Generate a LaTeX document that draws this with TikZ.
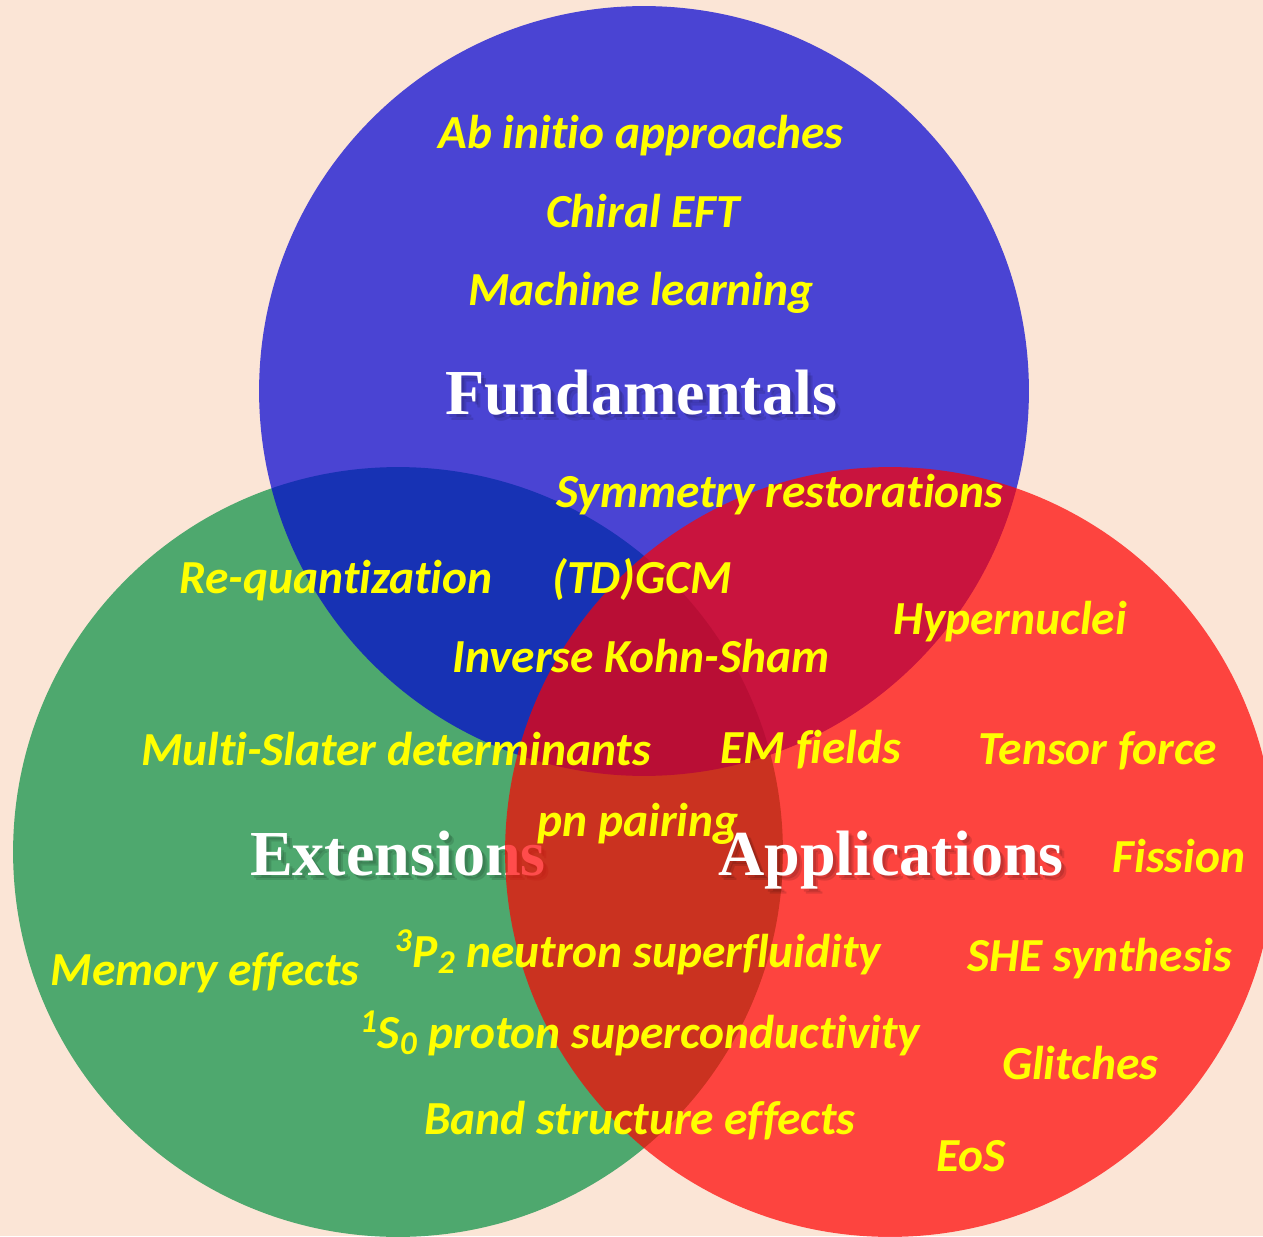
\documentclass[tikz,border=0pt]{standalone}
\usepackage{fontspec}
\setmainfont{Liberation Serif}
\setsansfont{Carlito}[Ligatures=NoCommon]
\definecolor{peach}{RGB}{251,229,214}
\definecolor{fundblue}{RGB}{0,0,210}
\definecolor{extgreen}{RGB}{78,168,110}
\definecolor{appred}{RGB}{255,0,0}
\definecolor{topicyellow}{RGB}{255,255,0}
\tikzset{
  topic/.style={anchor=base, inner sep=0pt, text=topicyellow, font=\sffamily\bfseries\itshape\fontsize{27}{32}\selectfont},
  heading/.style={anchor=base, inner sep=0pt, text=white, font=\rmfamily\bfseries\fontsize{36.5}{42}\selectfont},
  headshadow/.style={heading, text=black, text opacity=0.12},
  fundset/.style={fill=fundblue, fill opacity=0.7},
  extset/.style={fill=extgreen},
  appset/.style={fill=appred, fill opacity=0.7}
}
% white title with a soft drop shadow
\newcommand{\venntitle}[4]{%
  \foreach \s in {3,5}
    \node[headshadow] at (#2+\s,#3+\s) {#4};
  \node[heading] (#1) at (#2,#3) {#4};
}

\begin{document}
\begin{tikzpicture}[x=0.02cm, y=-0.02cm]
  \useasboundingbox (0,0) rectangle (1263,1236);
  \fill[peach] (0,0) rectangle (1263,1236);
  \clip (0,0) rectangle (1263,1236);

  \fill[extset] (398,852) circle[radius=7.7cm];
  \venntitle{ext}{398}{875}{Extensions}
  \fill[fundset] (644,391) circle[radius=7.7cm];
  \fill[appset] (890,852) circle[radius=7.7cm];

  \venntitle{fund}{641}{415}{Fundamentals}
  \venntitle{app}{891}{875}{Applications}

  \node[topic] (abinitio) at (641,149) {Ab initio approaches};
  \node[topic] (chiral) at (643,228) {Chiral EFT};
  \node[topic] (ml) at (641,306) {Machine learning};
  \node[topic] (symrest) at (780,507) {Symmetry restorations};
  \node[topic] (requant) at (336,593) {Re-quantization};
  \node[topic] (gcm) at (642,593) {(TD)GCM};
  \node[topic] (hyper) at (1010,634) {Hypernuclei};
  \node[topic] (ikohn) at (641,672) {Inverse Kohn-Sham};
  \node[topic] (mslater) at (396,765) {Multi-Slater determinants};
  \node[topic] (emf) at (811,763) {EM fields};
  \node[topic] (tensor) at (1098,764) {Tensor force};
  \node[topic] (pnpair) at (638,836) {pn pairing};
  \node[topic] (fission) at (1179,872) {Fission};
  \node[topic] (memory) at (205,985) {Memory effects};
  \node[topic] (nsf) at (638,967) {\textsuperscript{3}P\textsubscript{2} neutron superfluidity};
  \node[topic] (she) at (1100,971) {SHE synthesis};
  \node[topic] (psc) at (640,1048) {\textsuperscript{1}S\textsubscript{0} proton superconductivity};
  \node[topic] (glitch) at (1080,1079) {Glitches};
  \node[topic] (band) at (640,1134) {Band structure effects};
  \node[topic] (eos) at (971,1171) {EoS};
\end{tikzpicture}
\end{document}
